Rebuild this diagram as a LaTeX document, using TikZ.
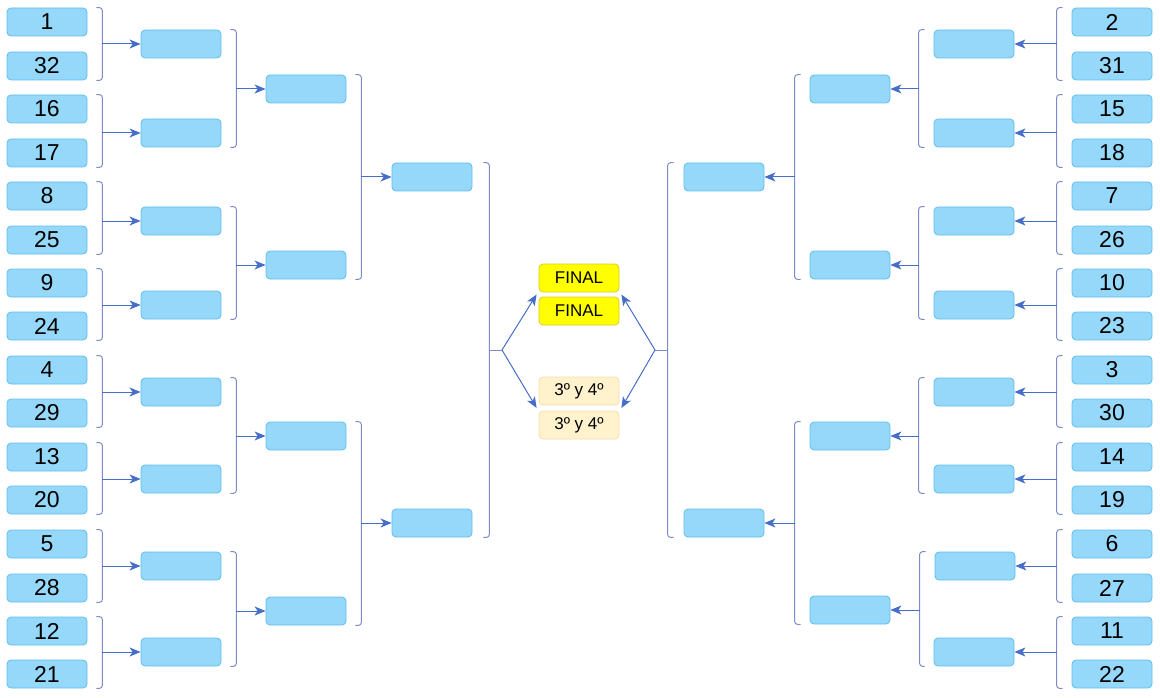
\documentclass[tikz,border=0pt]{standalone}
\usepackage{fontspec}
\setmainfont{Liberation Sans}
\usetikzlibrary{arrows.meta,calc}
\definecolor{SlotBlue}{RGB}{150,216,250}
\definecolor{SlotEdge}{RGB}{95,190,235}
\definecolor{BracketBlue}{RGB}{125,140,200}
\definecolor{LinkBlue}{RGB}{70,110,200}
\definecolor{FinalYellow}{RGB}{255,255,0}
\definecolor{FinalEdge}{RGB}{225,200,40}
\definecolor{ThirdCream}{RGB}{255,242,204}
\definecolor{ThirdEdge}{RGB}{245,222,175}

\tikzset{
  slot/.style={draw=SlotEdge, fill=SlotBlue, rounded corners=4pt, minimum width=80pt,
    minimum height=28pt, inner sep=0pt, line width=0.8pt, font=\fontsize{23}{25}\selectfont},
  final/.style={slot, draw=FinalEdge, fill=FinalYellow, font=\fontsize{17}{19}\selectfont},
  third/.style={slot, draw=ThirdEdge, fill=ThirdCream, font=\fontsize{17}{19}\selectfont},
  bracket/.style={draw=BracketBlue, line width=1pt, rounded corners=3pt},
  link/.style={draw=LinkBlue, line width=1pt, -{Stealth[length=11pt,width=9pt,inset=3pt]}},
}

% bracket on the right of two slots, arrow to the next slot
\newcommand{\joinleft}[3]{%
  \coordinate (jx) at ($(#1.north east)+(15,0)$);
  \draw[bracket] ($(#1.north east)+(9,0)$) -- (jx) -- (jx |- #2.south) -- ($(#2.south east)+(9,0)$);
  \draw[link] (jx |- #3.west) -- (#3.west);}
% bracket on the left of two slots, arrow to the next slot
\newcommand{\joinright}[3]{%
  \coordinate (jx) at ($(#1.north west)+(-15,0)$);
  \draw[bracket] ($(#1.north west)+(-9,0)$) -- (jx) -- (jx |- #2.south) -- ($(#2.south west)+(-9,0)$);
  \draw[link] (jx |- #3.east) -- (#3.east);}

\begin{document}
\begin{tikzpicture}[x=1pt, y=-1pt]
    \useasboundingbox (0,0) rectangle (1160,698);

    % Left seeds
    \node[slot] (s1)  at (47,22)  {1};
    \node[slot] (s32) at (47,66)  {32};
    \node[slot] (s16) at (47,109) {16};
    \node[slot] (s17) at (47,153) {17};
    \node[slot] (s8)  at (47,196) {8};
    \node[slot] (s25) at (47,240) {25};
    \node[slot] (s9)  at (47,283) {9};
    \node[slot] (s24) at (47,326) {24};
    \node[slot] (s4)  at (47,370) {4};
    \node[slot] (s29) at (47,413) {29};
    \node[slot] (s13) at (47,457) {13};
    \node[slot] (s20) at (47,500) {20};
    \node[slot] (s5)  at (47,544) {5};
    \node[slot] (s28) at (47,588) {28};
    \node[slot] (s12) at (47,631) {12};
    \node[slot] (s21) at (47,674) {21};

    % Left rounds
    \node[slot] (l2a) at (181,44)  {};
    \node[slot] (l2b) at (181,133) {};
    \node[slot] (l2c) at (181,221) {};
    \node[slot] (l2d) at (181,305) {};
    \node[slot] (l2e) at (181,392) {};
    \node[slot] (l2f) at (181,479) {};
    \node[slot] (l2g) at (181,566) {};
    \node[slot] (l2h) at (181,652) {};
    \node[slot] (l3a) at (306,89)  {};
    \node[slot] (l3b) at (306,265) {};
    \node[slot] (l3c) at (306,436) {};
    \node[slot] (l3d) at (306,611) {};
    \node[slot] (l4a) at (432,177) {};
    \node[slot] (l4b) at (432,523) {};

    % Right seeds
    \node[slot] (s2)  at (1112,22)  {2};
    \node[slot] (s31) at (1112,66)  {31};
    \node[slot] (s15) at (1112,109) {15};
    \node[slot] (s18) at (1112,153) {18};
    \node[slot] (s7)  at (1112,196) {7};
    \node[slot] (s26) at (1112,240) {26};
    \node[slot] (s10) at (1112,283) {10};
    \node[slot] (s23) at (1112,326) {23};
    \node[slot] (s3)  at (1112,370) {3};
    \node[slot] (s30) at (1112,413) {30};
    \node[slot] (s14) at (1112,457) {14};
    \node[slot] (s19) at (1112,500) {19};
    \node[slot] (s6)  at (1112,544) {6};
    \node[slot] (s27) at (1112,588) {27};
    \node[slot] (s11) at (1112,631) {11};
    \node[slot] (s22) at (1112,674) {22};

    % Right rounds
    \node[slot] (r2a) at (974,44)  {};
    \node[slot] (r2b) at (974,133) {};
    \node[slot] (r2c) at (974,221) {};
    \node[slot] (r2d) at (974,305) {};
    \node[slot] (r2e) at (974,392) {};
    \node[slot] (r2f) at (974,479) {};
    \node[slot] (r2g) at (975,566) {};
    \node[slot] (r2h) at (974,652) {};
    \node[slot] (r3a) at (850,89)  {};
    \node[slot] (r3b) at (850,265) {};
    \node[slot] (r3c) at (850,436) {};
    \node[slot] (r3d) at (850,610) {};
    \node[slot] (r4a) at (724,177) {};
    \node[slot] (r4b) at (724,523) {};

    % Final and third place
    \node[final] (fin1) at (579,278) {FINAL};
    \node[final] (fin2) at (579,311) {FINAL};
    \node[third] (ter1) at (579,391) {3º y 4º};
    \node[third] (ter2) at (579,425) {3º y 4º};

    % Left brackets
    \joinleft{s1}{s32}{l2a}
    \joinleft{s16}{s17}{l2b}
    \joinleft{s8}{s25}{l2c}
    \joinleft{s9}{s24}{l2d}
    \joinleft{s4}{s29}{l2e}
    \joinleft{s13}{s20}{l2f}
    \joinleft{s5}{s28}{l2g}
    \joinleft{s12}{s21}{l2h}
    \joinleft{l2a}{l2b}{l3a}
    \joinleft{l2c}{l2d}{l3b}
    \joinleft{l2e}{l2f}{l3c}
    \joinleft{l2g}{l2h}{l3d}
    \joinleft{l3a}{l3b}{l4a}
    \joinleft{l3c}{l3d}{l4b}

    % Right brackets
    \joinright{s2}{s31}{r2a}
    \joinright{s15}{s18}{r2b}
    \joinright{s7}{s26}{r2c}
    \joinright{s10}{s23}{r2d}
    \joinright{s3}{s30}{r2e}
    \joinright{s14}{s19}{r2f}
    \joinright{s6}{s27}{r2g}
    \joinright{s11}{s22}{r2h}
    \joinright{r2a}{r2b}{r3a}
    \joinright{r2c}{r2d}{r3b}
    \joinright{r2e}{r2f}{r3c}
    \joinright{r2g}{r2h}{r3d}
    \joinright{r3a}{r3b}{r4a}
    \joinright{r3c}{r3d}{r4b}

    % Semi-final brackets and forks
    \coordinate (hubL) at (502,350);
    \coordinate (hubR) at (655,350);
    \coordinate (jx) at ($(l4a.north east)+(17,0)$);
    \draw[bracket] ($(l4a.north east)+(11,0)$) -- (jx) -- (jx |- l4b.south) -- ($(l4b.south east)+(11,0)$);
    \draw[bracket] (jx |- hubL) -- (hubL);
    \coordinate (jx) at ($(r4a.north west)+(-16,0)$);
    \draw[bracket] ($(r4a.north west)+(-10,0)$) -- (jx) -- (jx |- r4b.south) -- ($(r4b.south west)+(-10,0)$);
    \draw[bracket] (jx |- hubR) -- (hubR);
    \draw[link] (hubL) -- ($(fin1.south west)!0.5!(fin2.north west)+(-2,0)$);
    \draw[link] (hubL) -- ($(ter1.south west)!0.5!(ter2.north west)+(-2,0)$);
    \draw[link] (hubR) -- ($(fin1.south east)!0.5!(fin2.north east)+(2,0)$);
    \draw[link] (hubR) -- ($(ter1.south east)!0.5!(ter2.north east)+(2,0)$);
\end{tikzpicture}
\end{document}
